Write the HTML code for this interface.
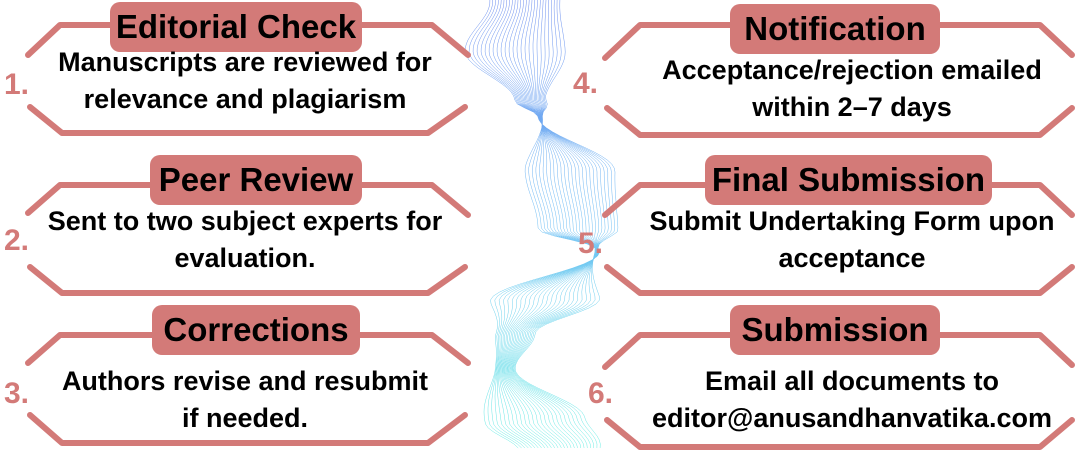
<!DOCTYPE html>
<html><head><meta charset="utf-8"><style>
body{margin:0;width:1080px;height:450px;background:#fff;overflow:hidden;position:relative;font-family:"Liberation Sans",sans-serif}
svg{position:absolute;left:0;top:0}
.pill{position:absolute;background:#d37a78;border-radius:10px;font-weight:bold;font-size:33px;color:#000;text-align:center;line-height:50px;height:50px;white-space:nowrap}
.body{position:absolute;font-weight:bold;font-size:27px;line-height:37px;text-align:center;color:#000;white-space:nowrap}
.num{position:absolute;font-weight:bold;font-size:30px;color:#d37a78}
</style></head><body>
<svg width="1080" height="450" id="s">
<defs><linearGradient id="g" x1="0" y1="0" x2="0" y2="450" gradientUnits="userSpaceOnUse"><stop offset="0" stop-color="#2f5de8"/><stop offset="0.5" stop-color="#39a8f0"/><stop offset="1" stop-color="#2ee8d8"/></linearGradient></defs>
<g id="w" fill="none" stroke="url(#g)" stroke-width="0.5" opacity="0.7"></g>
<g fill="none" stroke="#d37a78" stroke-width="6" stroke-linecap="round" stroke-linejoin="round">
<path d="M28 55 L60 25 L432 25 L468 55"/><path d="M30 107 L62 133 L428 133 L465 107"/>
<path d="M28 213 L60 185 L432 185 L468 215"/><path d="M30 267 L62 293 L428 293 L465 267"/>
<path d="M28 363 L60 335 L432 335 L468 363"/><path d="M30 415 L62 443 L428 443 L465 415"/>
<path d="M605 58 L640 25 L1040 25 L1072 55"/><path d="M607 108 L640 135 L1040 135 L1072 108"/>
<path d="M605 215 L640 185 L1040 185 L1072 215"/><path d="M607 267 L640 293 L1040 293 L1072 267"/>
<path d="M605 367 L640 335 L1040 335 L1072 365"/><path d="M607 420 L640 447 L1040 447 L1072 420"/>
</g></svg>
<div class="pill" style="left:110px;top:2px;width:252px">Editorial Check</div>
<div class="pill" style="left:150px;top:155px;width:212px">Peer Review</div>
<div class="pill" style="left:152px;top:305px;width:208px">Corrections</div>
<div class="pill" style="left:730px;top:4px;width:210px">Notification</div>
<div class="pill" style="left:705px;top:155px;width:287px">Final Submission</div>
<div class="pill" style="left:730px;top:305px;width:210px">Submission</div>
<div class="body" style="left:30px;top:44px;width:430px">Manuscripts are reviewed for<br>relevance and plagiarism</div>
<div class="body" style="left:30px;top:203px;width:430px">Sent to two subject experts for<br>evaluation.</div>
<div class="body" style="left:30px;top:363px;width:430px">Authors revise and resubmit<br>if needed.</div>
<div class="body" style="left:632px;top:52px;width:440px">Acceptance/rejection emailed<br>within 2–7 days</div>
<div class="body" style="left:632px;top:203px;width:440px">Submit Undertaking Form upon<br>acceptance</div>
<div class="body" style="left:632px;top:363px;width:440px">Email all documents to<br>editor@anusandhanvatika.com</div>
<div class="num" style="left:4px;top:68px">1.</div>
<div class="num" style="left:4px;top:224px">2.</div>
<div class="num" style="left:4px;top:377px">3.</div>
<div class="num" style="left:573px;top:67px">4.</div>
<div class="num" style="left:578px;top:227px">5.</div>
<div class="num" style="left:588px;top:377px">6.</div>
<script>
var g=document.getElementById('w');
var C=[[0,525],[50,515],[100,530],[115,540],[170,570],[230,578],[250,598],[300,545],[335,515],[370,505],[420,535],[450,560]];
var W=[[0,70],[50,100],[100,30],[115,4],[170,-90],[230,-80],[250,-4],[300,110],[335,40],[370,20],[420,100],[450,80]];
function lerp(a,y){for(var i=0;i<a.length-1;i++){if(y<=a[i+1][0]){var t=(y-a[i][0])/(a[i+1][0]-a[i][0]);t=(1-Math.cos(Math.PI*t))/2;return a[i][1]+(a[i+1][1]-a[i][1])*t;}}return a[a.length-1][1];}
var h='';for(var k=0;k<26;k++){var t=k/25-0.5;var d='';for(var y=0;y<=450;y+=4){var x=lerp(C,y+t*6)+lerp(W,y)*t;d+=(y?'L':'M')+x.toFixed(1)+' '+y;}h+='<path d="'+d+'"/>';}
g.innerHTML=h;
</script>
</body></html>
